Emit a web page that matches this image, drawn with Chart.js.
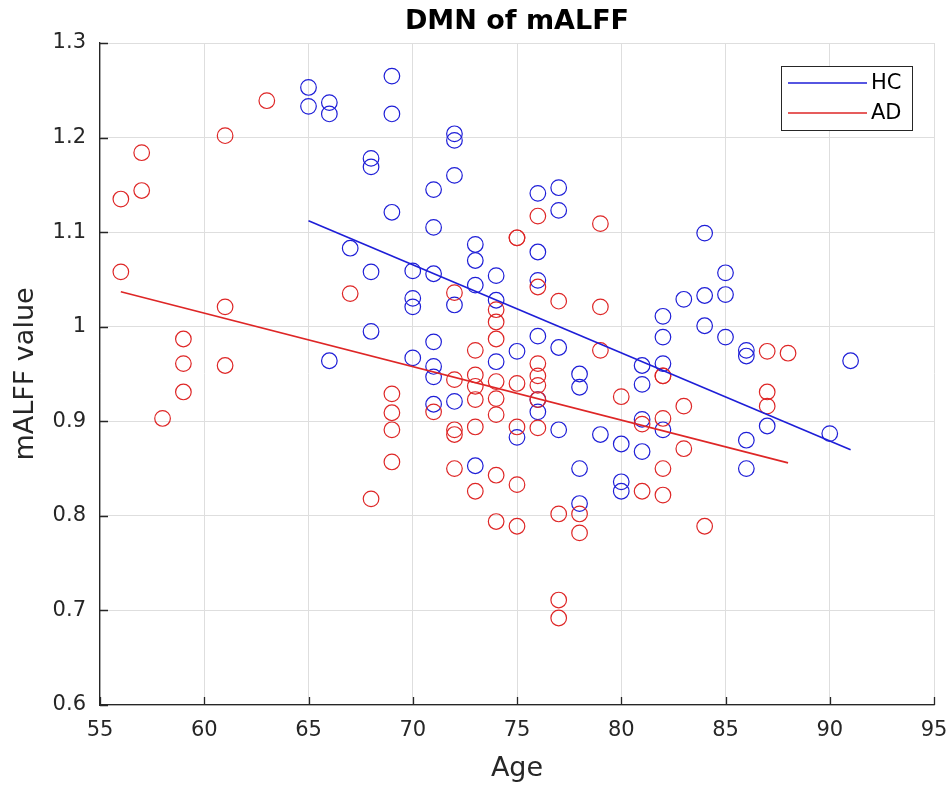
<!DOCTYPE html>
<html>
<head>
<meta charset="utf-8">
<title>DMN of mALFF</title>
<script src="https://cdn.jsdelivr.net/npm/chart.js@4/dist/chart.umd.min.js"></script>
<style>
  html, body { margin: 0; padding: 0; background: #fff; }
  canvas { display: block; }
</style>
</head>
<body>
<canvas id="scatterChart" width="951" height="785"></canvas>
<script>
// HC group: age and mALFF value of each subject
const hcAge = [
    65, 65, 66, 66, 66, 67, 68, 68, 68, 68, 69, 69, 69,
    70, 70, 70, 70, 71, 71, 71, 71, 71, 71, 71,
    72, 72, 72, 72, 72, 73, 73, 73, 73, 74, 74, 74, 75, 75,
    76, 76, 76, 76, 76, 76, 77, 77, 77, 77, 78, 78, 78, 78,
    79, 80, 80, 80, 81, 81, 81, 81, 82, 82, 82, 82, 83,
    84, 84, 84, 85, 85, 85, 86, 86, 86, 86, 87, 90, 91
];
const hcValue = [
    1.253, 1.233, 1.237, 1.225, 0.964, 1.083, 1.178, 1.169, 1.058, 0.995, 1.265, 1.225, 1.121,
    1.059, 1.030, 1.021, 0.967, 1.145, 1.105, 1.056, 0.984, 0.958, 0.947, 0.918,
    1.204, 1.197, 1.160, 1.023, 0.921, 1.087, 1.070, 1.044, 0.853, 1.054, 1.028, 0.963, 0.974, 0.883,
    1.141, 1.079, 1.049, 0.990, 0.923, 0.910, 1.147, 1.123, 0.978, 0.891, 0.950, 0.936, 0.850, 0.813,
    0.886, 0.876, 0.836, 0.826, 0.959, 0.939, 0.902, 0.868, 1.011, 0.989, 0.961, 0.891, 1.029,
    1.099, 1.033, 1.001, 1.057, 1.034, 0.989, 0.975, 0.969, 0.880, 0.850, 0.895, 0.887, 0.964
];

// AD group
const adAge = [
    56, 56, 57, 57, 58, 59, 59, 59, 61, 61, 61, 63, 67, 68,
    69, 69, 69, 69, 71, 72, 72, 72, 72, 72,
    73, 73, 73, 73, 73, 73, 74, 74, 74, 74, 74, 74, 74, 74,
    75, 75, 75, 75, 75, 75, 76, 76, 76, 76, 76, 76, 76,
    77, 77, 77, 77, 78, 78, 79, 79, 79, 80, 81, 81,
    82, 82, 82, 82, 82, 83, 83, 84, 87, 87, 87, 88
];
const adValue = [
    1.135, 1.058, 1.184, 1.144, 0.903, 0.987, 0.961, 0.931, 1.202, 1.021, 0.959, 1.239, 1.035, 0.818,
    0.929, 0.909, 0.891, 0.857, 0.910, 1.036, 0.944, 0.891, 0.886, 0.850,
    0.975, 0.949, 0.937, 0.923, 0.894, 0.826, 1.018, 1.005, 0.987, 0.942, 0.924, 0.907, 0.843, 0.794,
    1.094, 1.094, 0.940, 0.894, 0.833, 0.789, 1.117, 1.042, 0.961, 0.948, 0.938, 0.923, 0.893,
    1.027, 0.802, 0.711, 0.692, 0.802, 0.782, 1.109, 1.021, 0.975, 0.926, 0.897, 0.826,
    0.948, 0.948, 0.903, 0.850, 0.822, 0.916, 0.871, 0.789, 0.974, 0.931, 0.916, 0.972
];

// Linear fit of each group (end points)
const hcFitAge = [65, 91];
const hcFitValue = [1.112, 0.870];
const adFitAge = [56, 88];
const adFitValue = [1.037, 0.856];

const chartTitle = 'DMN of mALFF';
const groupLabels = ['HC', 'AD'];
const blue = 'rgb(30, 30, 215)';
const red = 'rgb(222, 38, 38)';
const axisColor = '#262626';
const fontFamily = "'DejaVu Sans', sans-serif";

const toPoints = (xs, ys) => xs.map((x, i) => ({ x: x, y: ys[i] }));

// Title centred over the plot area, inward tick marks on the left/bottom axes,
// and a boxed legend in the top right corner
const axisDecor = {
    id: 'axisDecor',
    afterDatasetsDraw(chart) {
        const { ctx, chartArea, scales } = chart;
        ctx.save();

        ctx.fillStyle = '#000';
        ctx.font = 'bold 27px ' + fontFamily;
        ctx.textAlign = 'center';
        ctx.textBaseline = 'middle';
        ctx.fillText(chartTitle, (chartArea.left + chartArea.right) / 2, 22);

        ctx.strokeStyle = axisColor;
        ctx.lineWidth = 1.3;
        ctx.beginPath();
        scales.x.ticks.forEach(t => {
            const px = Math.round(scales.x.getPixelForValue(t.value)) + 0.5;
            ctx.moveTo(px, chartArea.bottom);
            ctx.lineTo(px, chartArea.bottom - 8);
        });
        scales.y.ticks.forEach(t => {
            const py = Math.round(scales.y.getPixelForValue(t.value)) + 0.5;
            ctx.moveTo(chartArea.left, py);
            ctx.lineTo(chartArea.left + 8, py);
        });
        ctx.stroke();

        // legend box
        const x0 = chartArea.right - 153;
        const y0 = chartArea.top + 23;
        const w = 131, h = 64;
        ctx.fillStyle = '#fff';
        ctx.fillRect(x0, y0, w, h);
        ctx.lineWidth = 1;
        ctx.strokeStyle = axisColor;
        ctx.strokeRect(x0 + 0.5, y0 + 0.5, w, h);
        const colors = [blue, red];
        ctx.font = '21px ' + fontFamily;
        ctx.textAlign = 'left';
        ctx.textBaseline = 'middle';
        groupLabels.forEach((label, i) => {
            const ly = y0 + 17 + i * 30;
            ctx.strokeStyle = colors[i];
            ctx.lineWidth = 1.5;
            ctx.beginPath();
            ctx.moveTo(x0 + 7, ly);
            ctx.lineTo(x0 + 86, ly);
            ctx.stroke();
            ctx.fillStyle = '#000';
            ctx.fillText(label, x0 + 90, ly + 1);
        });
        ctx.restore();
    }
};

new Chart(document.getElementById('scatterChart'), {
    type: 'scatter',
    data: {
        datasets: [
            {
                label: 'HC fit',
                type: 'line',
                data: toPoints(hcFitAge, hcFitValue),
                borderColor: blue,
                borderWidth: 1.6,
                pointRadius: 0,
                fill: false,
                order: 0
            },
            {
                label: 'AD fit',
                type: 'line',
                data: toPoints(adFitAge, adFitValue),
                borderColor: red,
                borderWidth: 1.6,
                pointRadius: 0,
                fill: false,
                order: 0
            },
            {
                label: 'AD',
                data: toPoints(adAge, adValue),
                borderColor: red,
                backgroundColor: 'rgba(0,0,0,0)',
                pointRadius: 7.8,
                pointBorderWidth: 1.2,
                order: 1
            },
            {
                label: 'HC',
                data: toPoints(hcAge, hcValue),
                borderColor: blue,
                backgroundColor: 'rgba(0,0,0,0)',
                pointRadius: 7.8,
                pointBorderWidth: 1.2,
                order: 2
            }
        ]
    },
    options: {
        responsive: false,
        animation: false,
        devicePixelRatio: 1,
        layout: { padding: { top: 43, right: 17, bottom: 0, left: 0 } },
        plugins: {
            legend: { display: false },
            tooltip: { enabled: false },
            title: { display: false }
        },
        scales: {
            x: {
                type: 'linear',
                min: 55,
                max: 95,
                ticks: {
                    stepSize: 5,
                    color: axisColor,
                    font: { family: fontFamily, size: 21 },
                    padding: 13
                },
                grid: { color: '#dedede', lineWidth: 1, drawTicks: false },
                border: { display: true, color: axisColor, width: 1.3 },
                title: {
                    display: true,
                    text: 'Age',
                    color: axisColor,
                    font: { family: fontFamily, size: 27 },
                    padding: { top: 2, bottom: 0 }
                },
                afterFit(scale) {
                    scale.height = 80;
                    scale.paddingLeft = 0;
                    scale.paddingRight = 0;
                }
            },
            y: {
                type: 'linear',
                min: 0.6,
                max: 1.3,
                ticks: {
                    stepSize: 0.1,
                    color: axisColor,
                    font: { family: fontFamily, size: 21 },
                    padding: 14,
                    callback: v => String(Number(v.toFixed(1)))
                },
                grid: { color: '#dedede', lineWidth: 1, drawTicks: false },
                border: { display: true, color: axisColor, width: 1.3 },
                title: {
                    display: true,
                    text: 'mALFF value',
                    color: axisColor,
                    font: { family: fontFamily, size: 27 },
                    padding: { top: 10, bottom: 0 }
                },
                afterFit(scale) {
                    scale.width = 100;
                    scale.paddingTop = 0;
                    scale.paddingBottom = 0;
                }
            }
        }
    },
    plugins: [axisDecor]
});
</script>
</body>
</html>
